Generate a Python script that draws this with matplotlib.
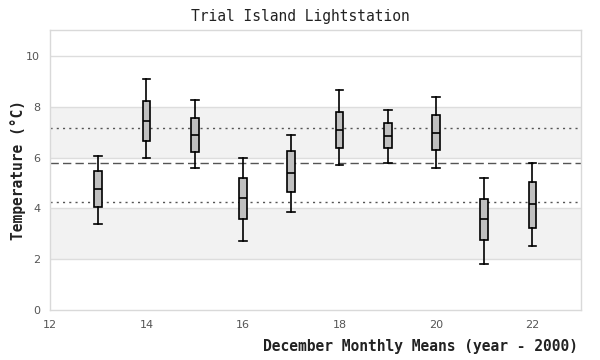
import matplotlib
matplotlib.use("Agg")
import matplotlib.pyplot as plt

# December monthly means, one box per year (year - 2000)
anos = [13, 14, 15, 16, 17, 18, 19, 20, 21, 22]
minimos = [3.40, 6.00, 5.61, 2.71, 3.88, 5.69, 5.80, 5.61, 1.80, 2.51]
q1 = [4.07, 6.67, 6.20, 3.57, 4.63, 6.39, 6.39, 6.31, 2.78, 3.25]
medianas = [4.77, 7.45, 6.90, 4.40, 5.41, 7.10, 6.86, 6.98, 3.57, 4.16]
q3 = [5.48, 8.24, 7.57, 5.18, 6.24, 7.80, 7.37, 7.69, 4.39, 5.06]
maximos = [6.07, 9.08, 8.27, 6.00, 6.90, 8.67, 7.88, 8.39, 5.18, 5.80]

# reference lines: long-term mean and +/- one std dev
media = 5.80
desvio_sup = 7.18
desvio_inf = 4.27

faixas = [(2, 4), (6, 8)]
yticks = [0, 2, 4, 6, 8, 10]
xticks = [12, 14, 16, 18, 20, 22]

stats = []
for i in range(len(anos)):
    stats.append({
        "whislo": minimos[i], "q1": q1[i], "med": medianas[i],
        "q3": q3[i], "whishi": maximos[i], "fliers": [],
    })

fig = plt.figure(figsize=(6, 3.6), dpi=100)
ax = fig.add_axes([50 / 600, 1 - 310.3 / 360, 530.7 / 600, 280 / 360])

for a, b in faixas:
    ax.axhspan(a, b, color="#f2f2f2", zorder=0, lw=0)
for y in yticks[1:]:
    ax.axhline(y, color="#dddddd", lw=1, zorder=1)

ax.axhline(desvio_sup, color="#555555", lw=1, ls=(0, (1.5, 3)), zorder=2)
ax.axhline(media, color="#555555", lw=1, ls=(0, (6, 3)), zorder=2)
ax.axhline(desvio_inf, color="#555555", lw=1, ls=(0, (1.5, 3)), zorder=2)

ax.bxp(stats, positions=anos, widths=0.16, patch_artist=True, showfliers=False,
       boxprops=dict(facecolor="#c0c0c0", edgecolor="black", linewidth=1.2),
       medianprops=dict(color="black", linewidth=1.2),
       whiskerprops=dict(color="black", linewidth=1.2),
       capprops=dict(color="black", linewidth=1.2),
       capwidths=0.16, zorder=3)

ax.set_xlim(12, 23)
ax.set_ylim(0, 11)
ax.set_xticks(xticks)
ax.set_xticklabels([str(t) for t in xticks])
ax.set_yticks(yticks)
ax.set_yticklabels([str(t) for t in yticks])
ax.tick_params(length=0, pad=7, labelsize=8, labelcolor="#555555")

for s in ax.spines.values():
    s.set_color("#d9d9d9")
    s.set_linewidth(1)

mono = "DejaVu Sans Mono"
fig.text(0.5, 1 - 16 / 360, "Trial Island Lightstation", ha="center", va="center",
         family=mono, fontsize=10.5, color="#222222")
fig.text(578 / 600, 1 - 347 / 360, "December Monthly Means (year - 2000)", ha="right",
         va="center", family=mono, fontsize=10.5, fontweight="bold", color="#222222")
fig.text(18 / 600, 1 - 170 / 360, "Temperature (°C)", ha="center", va="center",
         rotation=90, family=mono, fontsize=10.5, fontweight="bold", color="#222222")

fig.savefig("out.png", dpi=100)
